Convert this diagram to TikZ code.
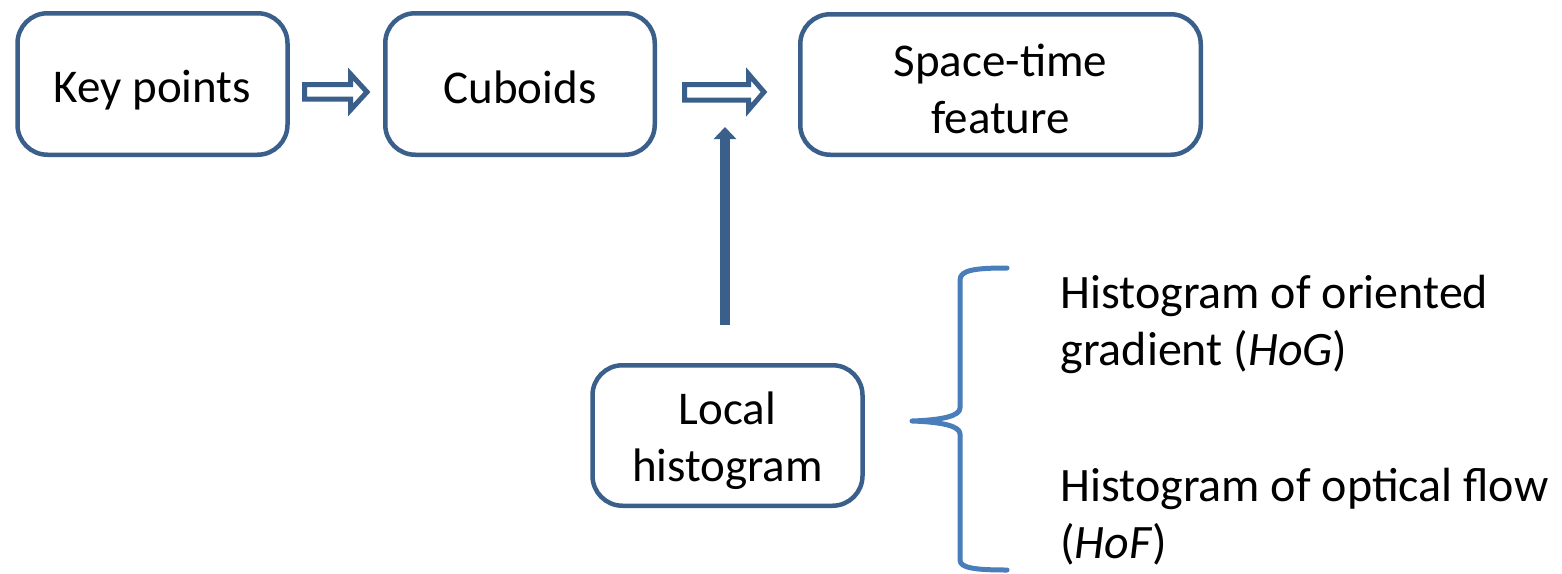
\documentclass[tikz,border=0pt]{standalone}
\usepackage{fontspec}
\setmainfont{Carlito}
\usetikzlibrary{arrows.meta}
\definecolor{boxblue}{RGB}{58,95,139}
\definecolor{bracecol}{RGB}{74,126,187}
\begin{document}
\begin{tikzpicture}[x=0.5pt,y=-0.5pt,
  font=\fontsize{23.5}{28.5}\selectfont,
  stepbox/.style={draw=boxblue, line width=2.25pt, rounded corners=15pt, inner sep=0pt, fill=white},
  boxtext/.style={align=center, inner sep=0pt},
  hollowarrow/.style={draw=boxblue, line width=2.5pt, fill=white, line join=miter},
  solidarrow/.style={draw=boxblue, line width=5pt, -{Triangle[width=11pt,length=6pt]}},
  bracestyle/.style={draw=bracecol, line width=2.5pt, line cap=round, line join=round},
  sidetext/.style={anchor=base west, align=left, inner sep=0pt, font=\fontsize{24}{28.5}\selectfont}]
\useasboundingbox (0,0) rectangle (1562,573);
\node[stepbox, minimum width=135pt, minimum height=70.75pt] (kp) at (152.5,84) {};
\node[boxtext] (kpt) at ([yshift=-3pt]kp.center) {Key points};
\node[stepbox, minimum width=134.75pt, minimum height=70.75pt] (cu) at (520,84) {};
\node[boxtext] (cut) at ([yshift=-1.5pt]cu.center) {Cuboids};
\node[stepbox, minimum width=200.25pt, minimum height=70.25pt] (st) at (1000.5,84.5) {};
\node[boxtext] (stt) at ([yshift=-2pt]st.center) {Space-time\\feature};
\node[stepbox, minimum width=135pt, minimum height=70.25pt] (lh) at (727.5,435.5) {};
\node[boxtext] (lht) at ([yshift=-2.5pt]lh.center) {Local\\histogram};
% hollow block arrows
\draw[hollowarrow] (304.5,84.5) -- (350.5,84.5) -- (350.5,74) -- (367,92) -- (350.5,110) -- (350.5,99) -- (304.5,99) -- cycle;
\draw[hollowarrow] (684.5,84.5) -- (748.5,84.5) -- (748.5,74) -- (764,92) -- (748.5,110) -- (748.5,100) -- (684.5,100) -- cycle;
% vertical arrow
\coordinate (vs) at (725,325);
\coordinate (ve) at (725,127);
\draw[solidarrow] (vs) -- (ve);
% brace
\coordinate (btip) at (912,421);
\draw[bracestyle] (1007,268) .. controls (975,268) and (960,270) .. (960,280) -- (960,408)
  .. controls (960,416) and (942,420) .. (btip)
  .. controls (942,422) and (960,426) .. (960,434) -- (960,560)
  .. controls (960,568) and (975,570) .. (1007,570);
\node[sidetext] (hog) at (1060,365) {Histogram of oriented\\gradient (\textit{HoG})};
\node[sidetext] (hof) at (1060,558) {Histogram of optical flow\\(\textit{HoF})};
\end{tikzpicture}
\end{document}
